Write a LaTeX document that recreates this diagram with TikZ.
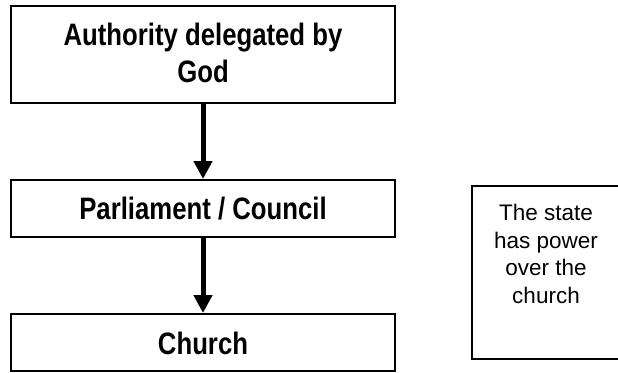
\documentclass[tikz,border=0pt]{standalone}
\usepackage{fontspec}
\setmainfont{Liberation Sans}
\usetikzlibrary{arrows.meta}
\newcommand{\bigbold}[2]{\raisebox{-#1}[\height][\depth]{\scalebox{0.83}[1]{\fontsize{31}{36.5}\selectfont\bfseries\begin{tabular}{@{}c@{}}#2\end{tabular}}}}
\tikzset{
  flowbox/.style={draw=black, line width=2pt, fill=white, minimum width=384pt, inner sep=0pt},
  flowarrow/.style={line width=5pt, -{Triangle[width=18pt,length=18pt]}},
  notebox/.style={draw=black, line width=2pt, fill=white, inner sep=0pt},
  notetext/.style={align=center, inner sep=0pt, font=\fontsize{22.5}{27.5}\selectfont}
}
\begin{document}
\begin{tikzpicture}[x=1pt,y=1pt]
\useasboundingbox (0,0) rectangle (618,-372);
\node[flowbox, minimum height=97pt] (god) at (203,-54.5) {\bigbold{2pt}{Authority delegated by\\God}};
\node[flowbox, minimum height=57pt] (parl) at (203,-208.5) {\bigbold{4pt}{Parliament / Council}};
\node[flowbox, minimum height=57pt] (church) at (203,-342.5) {\bigbold{5pt}{Church}};
\draw[flowarrow] (god.south) -- (parl.north);
\draw[flowarrow] (parl.south) -- (church.north);
\node[notebox, minimum width=150pt, minimum height=173pt, anchor=north west] (state) at (471,-185) {};
\node[notetext, anchor=north] (statetext) at (546,-204) {The state\\has power\\over the\\church};
\end{tikzpicture}
\end{document}
